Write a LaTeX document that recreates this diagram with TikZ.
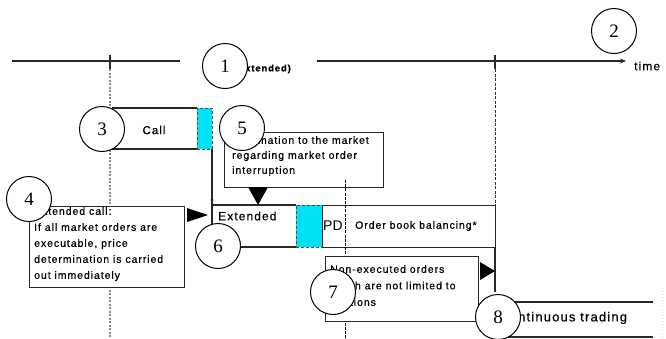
\documentclass[tikz,border=0pt]{standalone}
\usepackage{fontspec}
\setmainfont{Liberation Sans}
\newfontfamily\boxfont[LetterSpace=9,FakeBold=0.6]{Liberation Sans}
\newfontfamily\numfont{Liberation Serif}
\usetikzlibrary{arrows.meta}
\definecolor{auctioncyan}{RGB}{0,225,245}
\definecolor{lineink}{RGB}{40,40,40}

\begin{document}
\begin{tikzpicture}[x=1pt,y=-1pt,
  frame/.style={draw=lineink, line width=1.1pt, fill=white, inner sep=0pt},
  edge/.style={draw=lineink, line width=1.1pt},
  cyanbar/.style={fill=auctioncyan, draw=black!70, densely dashed, line width=0.7pt, inner sep=0pt},
  txt/.style={font=\boxfont\fontsize{10.5}{16}\selectfont, align=left, inner sep=0pt, anchor=west},
  marker/.style={fill=black, draw=none},
  num/.style={circle, draw=black, line width=1pt, fill=white, minimum size=45pt, inner sep=0pt,
              font=\numfont\fontsize{19}{19}\selectfont},
  guide/.style={draw=black!45, line width=1.3pt, dash pattern=on 2pt off 1.5pt},
  tickline/.style={draw=lineink, line width=1.1pt}
]
\useasboundingbox (0,0) rectangle (666,338);

% time axis
\coordinate (t0) at (12,61);
\coordinate (t1) at (180,61);
\coordinate (t2) at (317,61);
\coordinate (t3) at (626,61);
\coordinate (k1a) at (110,55);
\coordinate (k1b) at (110,69);
\coordinate (k2a) at (495,55);
\coordinate (k2b) at (495,69);
\draw[edge] (t0) -- (t1);
\draw[edge, -{Stealth[length=6pt,width=5pt]}] (t2) -- (t3);
\draw[tickline] (k1a) -- (k1b);
\draw[tickline] (k2a) -- (k2b);
\node[font=\boxfont\bfseries\fontsize{9.5}{10}\selectfont, anchor=east, inner sep=0pt] (ext) at (291,69) {(extended)};
\node[font=\boxfont\fontsize{12}{12}\selectfont, anchor=west, inner sep=0pt] (time) at (634,66) {time};

% guide lines from the ticks
\coordinate (g1) at (110,338);
\coordinate (g2) at (495,205);
\draw[guide] (k1b) -- (g1);
\draw[draw=black!80, line width=0.8pt, dash pattern=on 3pt off 1.5pt] (k2b) -- (g2);

% call phase
\coordinate (c0) at (112,108);
\coordinate (c1) at (197,108);
\coordinate (c2) at (197,149);
\coordinate (c3) at (112,149);
\draw[edge] (c0) -- (c1);
\draw[edge] (c3) -- (c2);
\node[cyanbar, anchor=north west, minimum width=15pt, minimum height=41pt] (cb1) at (197,108) {};
\node[font=\boxfont\fontsize{11.5}{12}\selectfont, inner sep=0pt] (call) at (154,130) {Call};

% extended call phase
\coordinate (e0) at (212,149);
\coordinate (e1) at (212,247);
\coordinate (edot) at (212,200);
\draw[edge] (e0) -- (e1);
\fill[lineink] (edot) circle (1.6pt);

% information box
\node[frame, anchor=north west, minimum width=159pt, minimum height=55pt] (b5) at (224,132) {};
\node[txt, anchor=north west, font=\boxfont\fontsize{10.5}{15}\selectfont] (t5) at (232,136)
  {Information to the market\\regarding market order\\interruption};

% extended call box, price determination, order book balancing
\coordinate (x0) at (212,205);
\coordinate (x1) at (296,205);
\coordinate (x2) at (296,247);
\coordinate (x3) at (212,247);
\draw[edge] (x0) -- (x1);
\draw[edge] (x3) -- (x2);
\node[txt, font=\boxfont\fontsize{12}{12}\selectfont] (xt) at (218,216) {Extended};
\node[cyanbar, anchor=north west, minimum width=26pt, minimum height=42pt] (cb2) at (296,205) {};
\node[frame, anchor=north west, minimum width=173pt, minimum height=42pt] (ob) at (322,205) {};
\node[font=\fontsize{14}{14}\selectfont, anchor=west, inner sep=0pt] (pd) at (323,226) {PD};
\node[txt] (obt) at (355,226) {Order book balancing*};
\coordinate (ob1) at (495,247);
\coordinate (ob2) at (495,292);
\draw[edge] (ob1) -- (ob2);

% interruption marker line
\coordinate (d0) at (345,180);
\coordinate (d1) at (345,338);
\draw[draw=black, line width=0.9pt, dash pattern=on 3pt off 1.2pt] (d0) -- (d1);

% markers
\coordinate (m5a) at (248,187);
\coordinate (m5b) at (268,187);
\coordinate (m5c) at (258,205);
\fill[marker] (m5a) -- (m5b) -- (m5c) -- cycle;
\coordinate (m4a) at (187,208);
\coordinate (m4b) at (187,222);
\coordinate (m4c) at (208,215);
\fill[marker] (m4a) -- (m4b) -- (m4c) -- cycle;
\coordinate (m7a) at (480,262);
\coordinate (m7b) at (480,280);
\coordinate (m7c) at (495,271);
\fill[marker] (m7a) -- (m7b) -- (m7c) -- cycle;

% extended call box
\node[frame, anchor=north west, minimum width=155pt, minimum height=81pt] (b4) at (29,206) {};
\node[txt, anchor=north west] (t4) at (34,207)
  {Extended call:\\If all market orders are\\executable, price\\determination is carried\\out immediately};

% non-executed orders box
\node[frame, anchor=north west, minimum width=153pt, minimum height=65pt] (b7) at (325,256) {};
\node[txt, anchor=north west, font=\boxfont\fontsize{10.5}{16.5}\selectfont] (t7) at (330,265)
  {Non-executed orders\\which are not limited to\\auctions};

% continuous trading
\coordinate (ct0) at (500,302);
\coordinate (ct1) at (653,302);
\coordinate (ct2) at (500,337);
\coordinate (ct3) at (653,337);
\draw[edge] (ct0) -- (ct1);
\draw[edge] (ct2) -- (ct3);
\coordinate (cr0) at (662,288);
\coordinate (cr1) at (662,338);
\draw[draw=black!15, line width=1pt, dotted] (cr0) -- (cr1);
\node[font=\boxfont\fontsize{13}{13}\selectfont, anchor=west, inner sep=0pt] (ctt) at (499,318) {Continuous trading};

% numbered callouts
\node[num] (n1) at (225,66) {1};
\node[num] (n2) at (614,31) {2};
\node[num] (n3) at (102,129) {3};
\node[num] (n4) at (29,199) {4};
\node[num] (n5) at (242,128) {5};
\node[num] (n6) at (218,246) {6};
\node[num] (n7) at (333,292) {7};
\node[num] (n8) at (498,317) {8};
\end{tikzpicture}
\end{document}
